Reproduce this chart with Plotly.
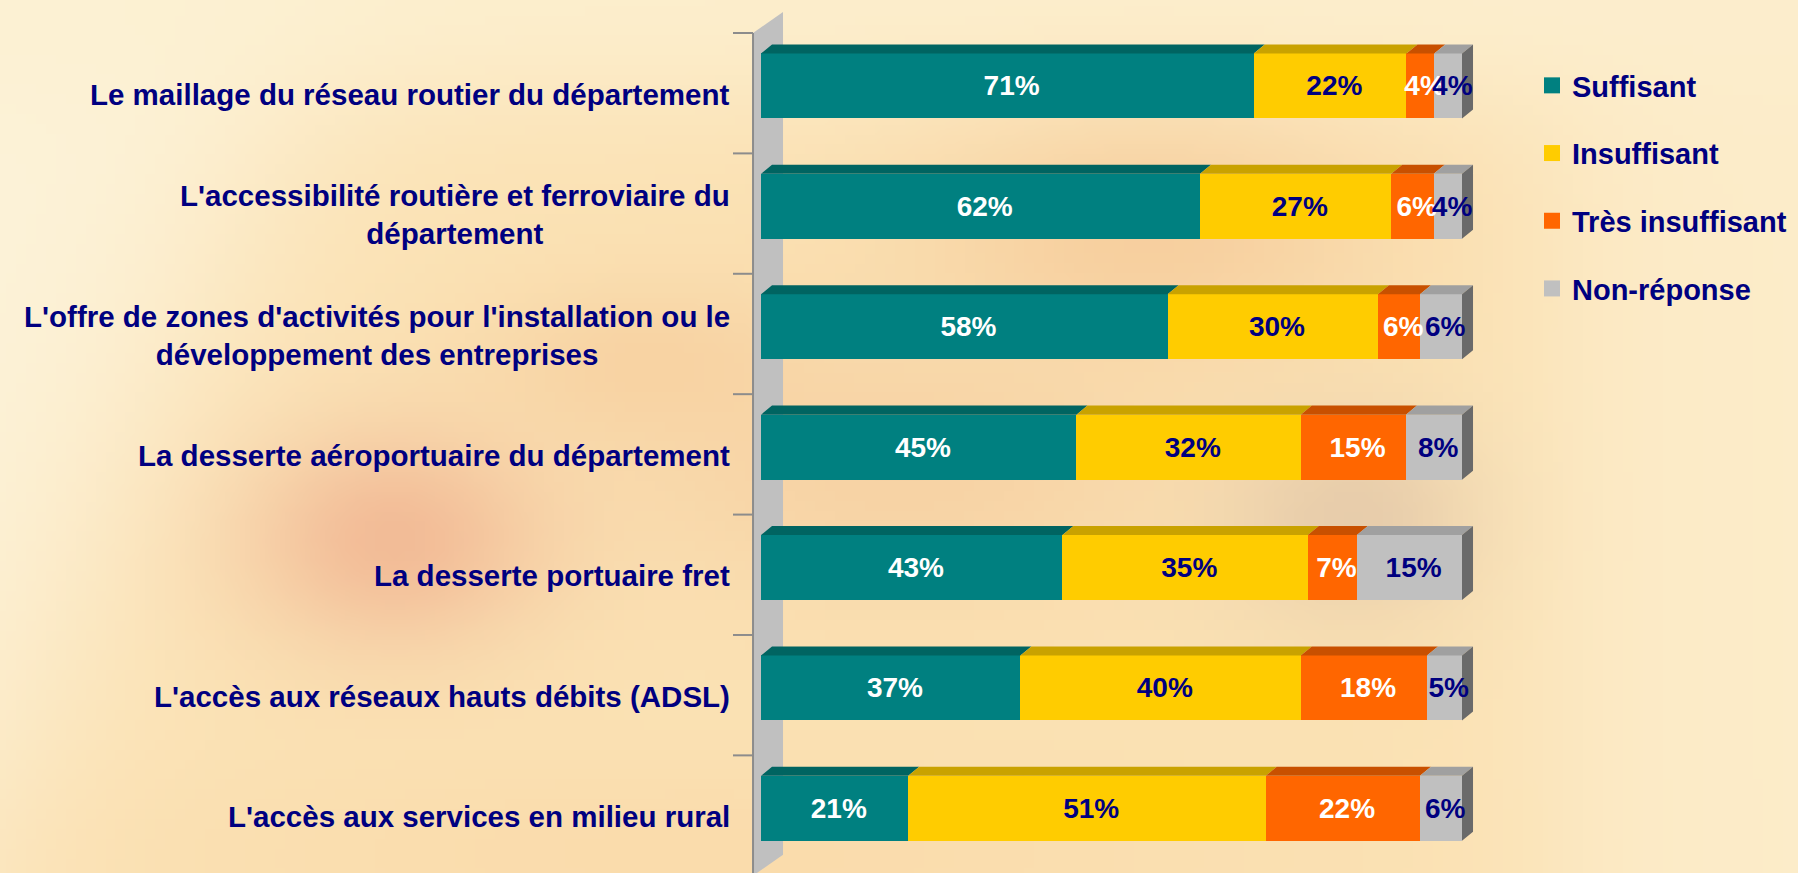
import base64
import struct
import zlib

import numpy as np
import plotly.graph_objects as go

# ---------------------------------------------------------------------------
# Data
# ---------------------------------------------------------------------------

categories = [
    "Le maillage du réseau routier du département",
    "L'accessibilité routière et ferroviaire du<br>département",
    "L'offre de zones d'activités pour l'installation ou le<br>développement des entreprises",
    "La desserte aéroportuaire du département",
    "La desserte portuaire fret",
    "L'accès aux réseaux hauts débits (ADSL)",
    "L'accès aux services en milieu rural",
]

series_names = ["Suffisant", "Insuffisant", "Très insuffisant", "Non-réponse"]

suffisant = [71, 62, 58, 45, 43, 37, 21]
insuffisant = [22, 27, 30, 32, 35, 40, 51]
tres_insuffisant = [4, 6, 6, 15, 7, 18, 22]
non_reponse = [4, 4, 6, 8, 15, 5, 6]

# ---------------------------------------------------------------------------
# Style
# ---------------------------------------------------------------------------

W, H = 1798, 873
FONT = "Arial, 'Liberation Sans', sans-serif"
NAVY = "#000080"

face = ["#008080", "#FFCC00", "#FF6600", "#C0C0C0"]
top = ["#006461", "#C9A200", "#C85000", "#A0A0A0"]
side = "#6A6A6A"
text_col = ["white", NAVY, "white", NAVY]

BAR_W = 0.54           # bar thickness (category units)
DX, DY = 1.57, -0.075  # 3D depth offset in data units

# data -> pixel mapping (plot area = full figure)
X_RANGE = [-108.56, 147.93]
Y_RANGE = [6.537, -0.714]


def png_data_uri(rgb):
    h, w, _ = rgb.shape
    raw = b"".join(b"\x00" + rgb[r].tobytes() for r in range(h))

    def chunk(tag, data):
        c = struct.pack(">I", len(data)) + tag + data
        return c + struct.pack(">I", zlib.crc32(tag + data) & 0xFFFFFFFF)

    png = b"\x89PNG\r\n\x1a\n"
    png += chunk(b"IHDR", struct.pack(">IIBBBBB", w, h, 8, 2, 0, 0, 0))
    png += chunk(b"IDAT", zlib.compress(raw, 9))
    png += chunk(b"IEND", b"")
    return "data:image/png;base64," + base64.b64encode(png).decode()


def background():
    gw, gh = 180, 88
    xs = np.linspace(0, W, gw)[None, :]
    ys = np.linspace(0, H, gh)[:, None]
    img = np.zeros((gh, gw, 3)) + np.array([251, 226, 180])

    def blend(col, a):
        nonlocal img
        a = np.clip(a, 0, 1)[..., None]
        img = img * (1 - a) + np.array(col) * a

    def blob(cx, cy, sx, sy, col, s):
        blend(col, s * np.exp(-(((xs - cx) / sx) ** 2 + ((ys - cy) / sy) ** 2)))

    # lighter diagonal band on the left
    d = (xs - 330 * (1 - ys / 760.0)) / 70.0
    blend([253, 243, 217], 1 / (1 + np.exp(d)))
    # light top strip
    blend([253, 241, 210], np.exp(-(ys / 120.0) ** 2) * 0.8)
    # warm blobs
    blob(1150, 230, 230, 120, [246, 200, 150], 0.7)
    blob(900, 470, 280, 130, [244, 196, 150], 0.5)
    blob(390, 540, 150, 110, [240, 176, 142], 0.75)
    blob(1360, 520, 130, 100, [216, 188, 164], 0.55)
    blob(640, 360, 160, 80, [246, 200, 150], 0.5)
    blob(700, 860, 520, 90, [250, 214, 165], 0.5)
    # lighter right edge
    blend([253, 238, 205], 1 / (1 + np.exp(-(xs - 1560) / 50.0)) * 0.85)
    return png_data_uri(np.clip(img, 0, 255).astype(np.uint8))


def poly(xs, ys):
    return "M" + " L".join(f"{x:.4f},{y:.4f}" for x, y in zip(xs, ys)) + " Z"


# ---------------------------------------------------------------------------
# Figure
# ---------------------------------------------------------------------------

values = np.array([suffisant, insuffisant, tres_insuffisant, non_reponse], dtype=float)
norm = values / values.sum(axis=0) * 100
cum_end = norm.cumsum(axis=0)
cum_start = cum_end - norm
ypos = np.arange(len(categories))

fig = go.Figure()

# back wall, axis line and ticks (kept below the bars)
wall_x0, wall_x1 = -1.14, 3.14
wall_top, wall_bot = -0.44, 6.56
shapes = [
    dict(type="path", xref="x", yref="y", layer="below",
         path=poly([wall_x0, wall_x1, wall_x1, wall_x0],
                   [wall_top, wall_top - 0.175, wall_bot - 0.175, wall_bot]),
         fillcolor="#C0C0C0", line=dict(width=0)),
    dict(type="line", xref="x", yref="y", layer="below",
         x0=wall_x0, x1=wall_x0, y0=wall_top, y1=wall_bot,
         line=dict(color="#8C8C8C", width=2)),
]
for b in np.arange(len(categories) + 1) - 0.5 + 0.06:
    shapes.append(dict(type="line", xref="x", yref="y", layer="below",
                       x0=-4.0, x1=wall_x0, y0=b, y1=b,
                       line=dict(color="#8C8C8C", width=2)))

# front faces
for k, name in enumerate(series_names):
    fig.add_trace(go.Bar(
        y=ypos, x=values[k], orientation="h", name=name, width=BAR_W,
        marker=dict(color=face[k], line=dict(width=0)),
        showlegend=False, textposition="none",
        hovertemplate=name + ": %{x}%<extra></extra>",
    ))

# top faces
for k in range(len(series_names)):
    px, py = [], []
    for i in ypos:
        x0, x1 = cum_start[k, i], cum_end[k, i]
        yt = i - BAR_W / 2
        px += [x0, x1, x1 + DX, x0 + DX, x0, None]
        py += [yt, yt, yt + DY, yt + DY, yt, None]
    fig.add_trace(go.Scatter(
        x=px, y=py, fill="toself", fillcolor=top[k], mode="lines",
        line=dict(width=0), hoverinfo="skip", showlegend=False,
    ))

# right side faces
px, py = [], []
for i in ypos:
    xr = cum_end[-1, i]
    yt, yb = i - BAR_W / 2, i + BAR_W / 2
    px += [xr, xr + DX, xr + DX, xr, xr, None]
    py += [yt, yt + DY, yb + DY, yb, yt, None]
fig.add_trace(go.Scatter(
    x=px, y=py, fill="toself", fillcolor=side, mode="lines",
    line=dict(width=0), hoverinfo="skip", showlegend=False,
))

# value labels
for k in range(len(series_names)):
    fig.add_trace(go.Scatter(
        x=(cum_start[k] + cum_end[k]) / 2 + 0.6, y=ypos + 0.02, mode="text",
        text=[f"{v:.0f}%" for v in values[k]],
        textfont=dict(family=FONT, size=28, color=text_col[k], weight=700),
        hoverinfo="skip", showlegend=False,
    ))

# legend entries
for k, name in enumerate(series_names):
    fig.add_trace(go.Scatter(
        x=[None], y=[None], mode="markers", name=name, legendgroup=name,
        marker=dict(symbol="square", size=16, color=face[k]),
    ))

# category labels
for i, cat in enumerate(categories):
    fig.add_annotation(
        x=-4.2, y=i + 0.07, xref="x", yref="y", text=cat, showarrow=False,
        xanchor="right", yanchor="middle", align="center",
        font=dict(family=FONT, size=29.5, color=NAVY, weight=700),
    )

fig.update_layout(
    width=W, height=H,
    margin=dict(l=0, r=0, t=0, b=0),
    paper_bgcolor="#FBE6BC",
    plot_bgcolor="rgba(0,0,0,0)",
    barmode="stack", barnorm="percent",
    xaxis=dict(range=X_RANGE, visible=False, fixedrange=True),
    yaxis=dict(range=Y_RANGE, visible=False, fixedrange=True),
    showlegend=True,
    legend=dict(
        x=1532 / W, y=1 - 60 / H, xanchor="left", yanchor="top",
        bgcolor="rgba(0,0,0,0)", tracegroupgap=27, itemsizing="trace",
        font=dict(family=FONT, size=29, color=NAVY, weight=700),
    ),
    shapes=shapes,
    images=[dict(
        source=background(), xref="paper", yref="paper", x=0, y=1,
        sizex=1, sizey=1, xanchor="left", yanchor="top",
        sizing="stretch", layer="below",
    )],
)

fig.write_html(
    "out.html",
    config={"displayModeBar": False},
    post_script="document.body.style.margin='0px';",
)
